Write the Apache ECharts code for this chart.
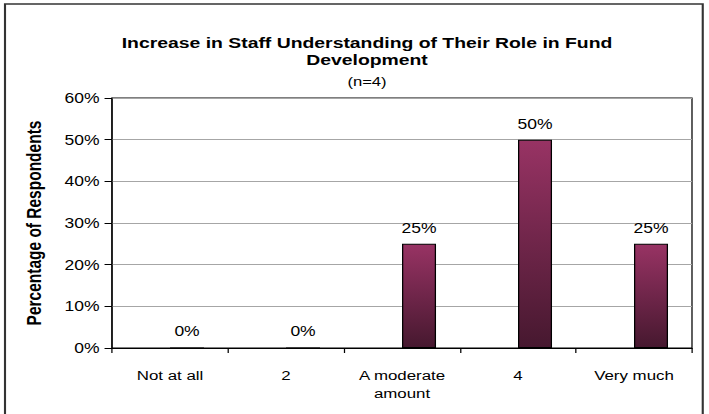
<!DOCTYPE html>
<html>
<head>
<meta charset="utf-8">
<script src="https://cdn.jsdelivr.net/npm/echarts@6/dist/echarts.min.js"></script>
<style>
html,body{margin:0;padding:0;background:#fff;overflow:hidden;}
#wrap{width:709px;height:414px;overflow:hidden;}
#chart{width:567px;height:414px;transform:scaleX(1.25044);transform-origin:0 0;}
</style>
</head>
<body>
<div id="wrap"><div id="chart"></div></div>
<script>
const categories = ['Not at all', '2', 'A moderate\namount', '4', 'Very much'];
const percentValues = [0, 0, 25, 50, 25];
const yTicks = [0, 10, 20, 30, 40, 50, 60];
const titleText = 'Increase in Staff Understanding of Their Role in Fund\nDevelopment';
const subtitleText = '(n=4)';
const yAxisName = 'Percentage of Respondents';

const chart = echarts.init(document.getElementById('chart'), null, {renderer: 'svg'});
const FONT = 'Liberation Sans, Arial, sans-serif';
chart.setOption({
  backgroundColor: '#fff',
  animation: false,
  title: {
    text: titleText,
    subtext: subtitleText,
    left: 293.5,
    textAlign: 'center',
    top: 34,
    padding: 0,
    itemGap: 6,
    textStyle: {fontFamily: FONT, fontSize: 15.5, fontWeight: 'bold', color: '#000', lineHeight: 17},
    subtextStyle: {fontFamily: FONT, fontSize: 13.3, color: '#000', lineHeight: 15}
  },
  graphic: [{
    type: 'rect',
    shape: {x: 4, y: 4, width: 558, height: 440},
    style: {fill: 'none', stroke: '#333', lineWidth: 1.7},
    silent: true
  }],
  grid: {left: 89.6, right: 13.6, top: 98, bottom: 66, show: true, borderColor: '#000', borderWidth: 1, backgroundColor: 'transparent'},
  xAxis: {
    type: 'category',
    data: categories,
    axisLine: {lineStyle: {color: '#000', width: 1}},
    axisTick: {show: true, length: 5, lineStyle: {color: '#000'}},
    axisLabel: {fontFamily: FONT, fontSize: 13.5, color: '#000', margin: 18, lineHeight: 18, interval: 0}
  },
  yAxis: {
    type: 'value',
    min: yTicks[0],
    max: yTicks[yTicks.length - 1],
    interval: 10,
    name: yAxisName,
    nameLocation: 'middle',
    nameGap: 54,
    nameTextStyle: {fontFamily: FONT, fontSize: 15.5, fontWeight: 'bold', color: '#000'},
    axisLine: {show: true, lineStyle: {color: '#000', width: 1}},
    axisTick: {show: true, length: 6, lineStyle: {color: '#000'}},
    axisLabel: {fontFamily: FONT, fontSize: 14, color: '#000', margin: 10, formatter: '{value}%'},
    splitLine: {show: true, lineStyle: {color: '#a6a6a6', width: 1}}
  },
  series: [
    {
      type: 'bar',
      data: categories.map(() => null),
      barWidth: 27.2,
      barGap: '0%',
      silent: true
    },
    {
      type: 'bar',
      data: percentValues,
      barWidth: 27.2,
      barGap: '0%',
      itemStyle: {
        borderColor: '#000',
        borderWidth: 1,
        color: new echarts.graphic.LinearGradient(0, 0, 0, 1, [
          {offset: 0, color: '#983364'},
          {offset: 1, color: '#46182f'}
        ])
      },
      label: {show: true, position: 'top', distance: 9, formatter: '{c}%', fontFamily: FONT, fontSize: 14, color: '#000'}
    }
  ]
});
</script>
</body>
</html>
